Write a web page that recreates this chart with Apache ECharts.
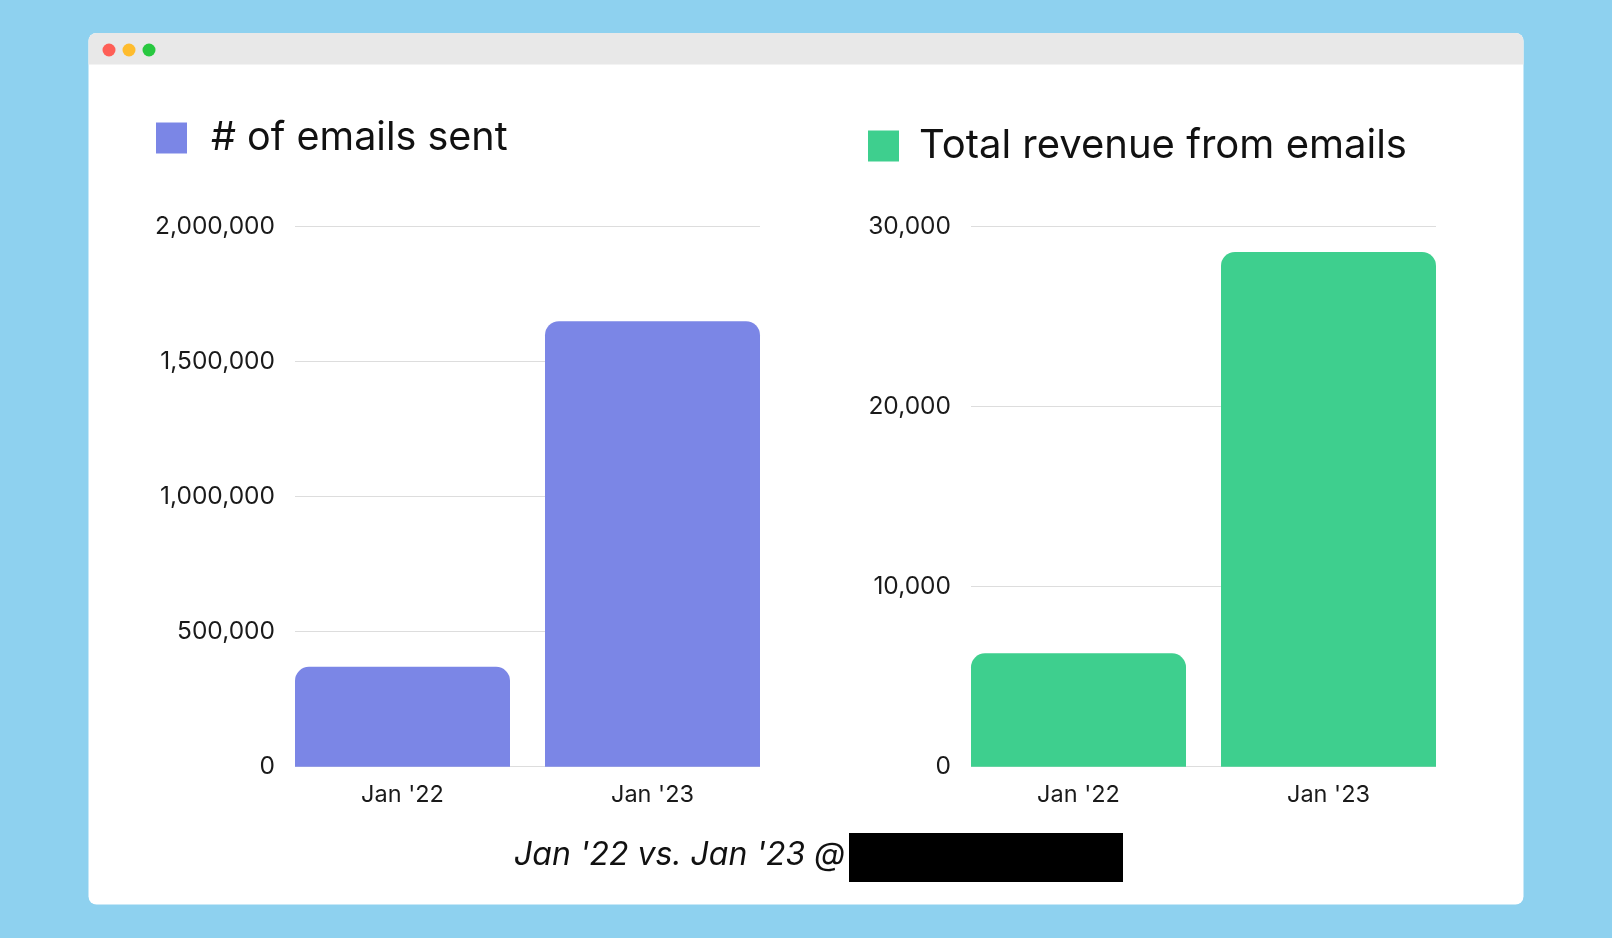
<!DOCTYPE html>
<html>
<head>
<meta charset="utf-8">
<script src="https://cdn.jsdelivr.net/npm/echarts@6/dist/echarts.min.js"></script>
<style>
  html, body { margin: 0; padding: 0; background: #8ed1ef; }
  #main { width: 1612px; height: 938px; }
</style>
</head>
<body>
<div id="main"></div>
<script>
// data
const categories = ["Jan '22", "Jan '23"];
const emailsSent = [370000, 1650000];
const emailRevenue = [6300, 28600];
const emailTicks = [0, 500000, 1000000, 1500000, 2000000];
const revenueTicks = [0, 10000, 20000, 30000];

const FONT = 'Inter';
const plotTop = 226.7;
const plotHeight = 540;

function fmt(v) {
  return Number(v).toLocaleString('en-US');
}

function scaleOf(ticks) {
  return { min: ticks[0], max: ticks[ticks.length - 1], interval: ticks[1] - ticks[0] };
}

// grid with the gridlines + labels, and a slightly wider one holding the bars
function gridsFor(left) {
  return [
    { left: left, width: 465, top: plotTop, height: plotHeight },
    { left: left - 17.5, width: 500, top: plotTop, height: plotHeight }
  ];
}

function yAxesFor(ticks, gridA, gridB) {
  const s = scaleOf(ticks);
  return [
    {
      type: 'value', gridIndex: gridA, min: s.min, max: s.max, interval: s.interval,
      axisLine: { show: false }, axisTick: { show: false },
      axisLabel: { formatter: fmt, fontFamily: FONT, fontSize: 24.5, color: '#1a1a1a', margin: 20 },
      splitLine: { lineStyle: { color: '#dddddd', width: 1 } }
    },
    {
      type: 'value', gridIndex: gridB, min: s.min, max: s.max, interval: s.interval,
      show: false, splitLine: { show: false }
    }
  ];
}

function xAxesFor(gridA, gridB) {
  return [
    { type: 'category', gridIndex: gridA, data: categories, show: false },
    {
      type: 'category', gridIndex: gridB, data: categories,
      axisLine: { show: false }, axisTick: { show: false },
      axisLabel: { fontFamily: FONT, fontSize: 23.5, color: '#1a1a1a', margin: 16 }
    }
  ];
}

const chart = echarts.init(document.getElementById('main'));
chart.setOption({
  animation: false,
  textStyle: { fontFamily: FONT },
  grid: gridsFor(295).concat(gridsFor(971)),
  xAxis: xAxesFor(0, 1).concat(xAxesFor(2, 3)),
  yAxis: yAxesFor(emailTicks, 0, 1).concat(yAxesFor(revenueTicks, 2, 3)),
  legend: [
    {
      data: ['# of emails sent'], left: 156, top: 118, padding: 0,
      icon: 'rect', itemWidth: 31, itemHeight: 31, selectedMode: false,
      textStyle: { fontFamily: FONT, fontSize: 39.5, color: '#111111', padding: [0, 0, 6, 19] }
    },
    {
      data: ['Total revenue from emails'], left: 868, top: 126, padding: 0,
      icon: 'rect', itemWidth: 31, itemHeight: 31, selectedMode: false,
      textStyle: { fontFamily: FONT, fontSize: 40, color: '#111111', padding: [0, 0, 4, 15] }
    }
  ],
  title: {
    text: "Jan '22 vs. Jan '23 @",
    left: 514, top: 839, padding: 0,
    textStyle: { fontFamily: FONT, fontSize: 32, fontStyle: 'italic', fontWeight: 'normal', color: '#111111' }
  },
  series: [
    {
      name: '# of emails sent', type: 'bar', xAxisIndex: 1, yAxisIndex: 1,
      data: emailsSent, barWidth: 215,
      itemStyle: { color: '#7b86e6', borderRadius: [14, 14, 0, 0] }
    },
    {
      name: 'Total revenue from emails', type: 'bar', xAxisIndex: 3, yAxisIndex: 3,
      data: emailRevenue, barWidth: 215,
      itemStyle: { color: '#3ecf8e', borderRadius: [14, 14, 0, 0] }
    }
  ],
  graphic: [
    // browser window frame
    { type: 'rect', z: -10, shape: { x: 88.5, y: 33, width: 1435, height: 871.5, r: 8 }, style: { fill: '#ffffff' } },
    { type: 'rect', z: -9, shape: { x: 88.5, y: 33, width: 1435, height: 31.5, r: [8, 8, 0, 0] }, style: { fill: '#e8e8e8' } },
    { type: 'circle', z: -8, shape: { cx: 109, cy: 50, r: 6.5 }, style: { fill: '#fe5f57' } },
    { type: 'circle', z: -8, shape: { cx: 129, cy: 50, r: 6.5 }, style: { fill: '#febc2e' } },
    { type: 'circle', z: -8, shape: { cx: 149, cy: 50, r: 6.5 }, style: { fill: '#28c840' } },
    // redacted name
    { type: 'rect', z: 10, shape: { x: 849, y: 833, width: 274, height: 49 }, style: { fill: '#000000' } }
  ]
});
</script>
</body>
</html>
